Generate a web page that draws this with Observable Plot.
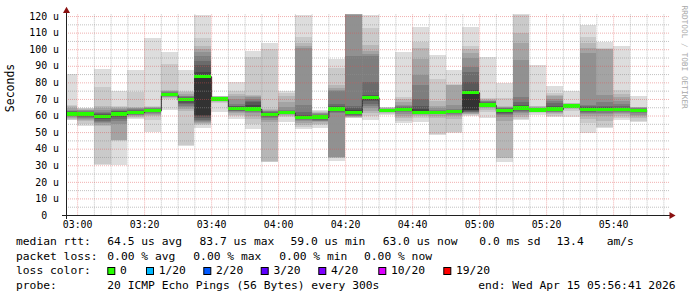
<!DOCTYPE html>
<html><head><meta charset="utf-8">
<script src="https://cdn.jsdelivr.net/npm/d3@7"></script>
<script src="https://cdn.jsdelivr.net/npm/@observablehq/plot@0.6"></script>
<style>
body{margin:0;background:#fff;}
#wrap{position:relative;width:697px;height:297px;overflow:hidden;background:#fff;}
#wrap svg{position:absolute;left:0;}
</style></head><body><div id="wrap"></div>
<script>
// ---- time frame (UTC used as wall clock) ----
const startTime = Date.UTC(2026, 3, 15, 2, 56, 41);
const endTime   = Date.UTC(2026, 3, 15, 5, 56, 41);
const firstBar  = Date.UTC(2026, 3, 15, 2, 55, 0);
const stepSec   = 300;

// ---- median rtt per 5-min step (µs) ----
const medians = [61, 61, 59.3, 61, 62, 63, 72.5, 69.5, 83.7, 70,
  64.4, 64, 60.7, 61.8, 59.0, 59.2, 64, 62, 71, 63.1,
  63.8, 62, 62, 62.3, 74, 66.4, 62.9, 64.6, 63.4, 63.9,
  65.8, 63.7, 63.8, 63.6, 63.0];

// ---- packet loss per step (pings lost of 20) ----
const lossCount = [0,0,0,0,0,0,0,0,0,0,0,0,0,0,0,0,0,0,0,0,0,0,0,0,0,0,0,0,0,0,0,0,0,0,0];

// ---- 20 sorted ping rtts per step (µs) ----
const sortedPings = [
  [57.2,57.6,58,58.5,59,59.5,60,60.3,60.6,60.9,61.2,61.5,62,62.5,63,63.6,64.5,66,66.6,85],
  [53.6,55,56.5,57.5,58.2,58.8,59.4,60,60.5,60.8,61.2,61.5,62,62.4,62.8,63.2,63.6,64,64.3,64.6],
  [30.2,30.5,53.5,54.5,55.5,56.3,57,57.8,58.3,58.8,59.8,60.3,60.8,61.5,62.3,63.3,64.5,66,77,88],
  [30.3,44.9,45,45.2,55,56.5,58,59,60,60.6,61.4,62,62.5,63,63.5,64,64.5,65,65.6,75],
  [58,58.6,59.2,59.7,60.2,60.6,61,61.3,61.6,61.8,62.2,62.5,62.9,63.3,63.8,64.3,64.8,65.3,74,87.5],
  [50.3,57.3,59.5,60.3,61,61.5,61.9,62.2,62.5,62.7,63.2,63.4,63.7,64,64.3,64.6,65,65.3,65.6,107],
  [63.4,70.2,70.6,71,71.3,71.6,71.9,72.1,72.2,72.3,72.7,73,73.3,73.7,74.1,74.5,75,75.5,90.8,98.5],
  [41.8,42,63,64,65,66,67,67.8,68.5,69,70,70.4,70.8,71.2,71.6,72,73,74,75,87.5],
  [52.5,54.5,55,55.5,56.3,57,57.6,58.5,59.5,60.6,84.5,86,90.6,93,96,98.6,100,102,106.6,120.6],
  [62.3,67.5,68.3,68.8,69.2,69.5,69.7,69.8,69.9,70,70.1,70.3,70.5,70.7,70.9,71.1,71.3,71.5,71.7,72],
  [58,59.5,60.5,61.3,62,62.5,63,63.4,63.8,64.1,64.7,65,65.5,66,67,70,72,73,74.5,80.5],
  [52,55,58,60,61.5,62.3,62.8,63.2,63.5,63.8,65,66.5,68,69,70,71,72,72.4,95.5,99],
  [31.8,32.2,32.6,56,57.5,58.5,59.2,59.8,60.2,60.5,61,61.4,61.8,62.2,62.6,63,63.5,64,100,104],
  [56,59,60,60.6,61,61.2,61.4,61.5,61.6,61.7,61.9,62.1,62.4,62.8,63.5,65,68,72,73.5,75],
  [52,53.3,54.5,55.5,56.5,57.3,57.8,58.2,58.5,58.7,59.2,59.7,60.5,62,66.6,100.5,102,104,107.5,120.6],
  [52.4,54,55,55.8,56.4,57,57.5,58,58.4,58.7,59.5,59.8,60.1,60.4,60.8,61.3,61.8,62.4,62.9,63.4],
  [32.3,34.2,34.5,34.8,35,61.5,62,62.5,63,63.5,64.5,65,66,67,74.5,75.5,76.5,78.5,88.5,94],
  [58.6,58.8,59,59.3,59.6,60,60.4,60.8,61.2,61.6,62.5,63.5,64.5,66,96,121,121,121,121,121],
  [57.6,60,61.6,63,64.5,65.6,67,68.5,69.5,70.2,71.5,72,72.6,80,96,97,99.2,102.6,112.6,120.6],
  [60.5,61.2,61.7,62,62.3,62.5,62.7,62.8,62.9,63,63.2,63.3,63.5,63.7,63.9,64.2,64.5,64.8,65,65.3],
  [55.3,56.5,58.5,60,61.2,62,62.6,63,63.3,63.6,64,64.3,64.7,65.2,65.8,66.5,68,70,71,98.5],
  [56,58.5,60,60.6,61,61.2,61.4,61.5,61.6,61.7,63,64,66,70,78.6,84.6,94,100.6,104.6,113.6],
  [48.5,49,58.5,60,60.8,61.2,61.5,61.7,61.8,61.9,62.1,62.3,62.6,63,63.6,64.5,66,68.6,82,96.6],
  [49.4,50,58,59.6,60.5,61,61.4,61.7,61.9,62.1,62.5,62.8,63.2,63.6,64,66.5,78.4,78.6,79,87.5],
  [60,60.4,60.8,61.2,61.6,62,62.4,62.8,63.2,63.6,75,75.6,80,86,89.5,94.5,98,100,102,113.6],
  [58.3,62,63.5,64.5,65,65.4,65.7,65.9,66.1,66.2,66.6,67,67.5,68,68.5,69,69.5,70,70.4,95.5],
  [32.2,34.2,34.5,57,59,60.2,61,61.6,62,62.4,63.3,63.6,64,64.3,64.6,65,65.3,65.6,70.5,79.5],
  [57.3,58,59,60.5,61.5,62.2,62.8,63.3,63.8,64.2,65,65.5,66.6,68,71.4,93.5,103.5,109.6,121,121],
  [60.5,61.5,62,62.4,62.7,62.9,63,63.1,63.2,63.3,63.5,63.7,63.9,64.1,64.3,64.6,65,65.5,66,90.5],
  [59,60,60.8,61.5,62,62.4,62.8,63.2,63.5,63.7,64.2,64.6,66,67.5,69,70,71.5,72.6,73.5,77.8],
  [59.3,63,64,64.6,65,65.2,65.4,65.5,65.6,65.7,65.9,66,66.2,66.4,66.6,66.8,67,67.3,67.6,75],
  [49.3,55.3,58,60,61,61.8,62.4,62.8,63.1,63.4,64,64.5,65,65.8,66.6,97.6,100.5,104,107.5,114.6],
  [52.4,53,57,59.5,61,61.8,62.5,63,63.3,63.5,64.1,64.5,65,66,68,72.4,100,100.3,100.5,104.5],
  [57.3,58.5,60,61,61.8,62.3,62.7,63,63.3,63.5,63.8,64.2,64.8,65.5,67,69,71,73,75.4,102],
  [56,57,58.5,59.5,60.5,61.3,61.9,62.3,62.6,62.8,63.3,63.6,63.9,64.2,64.5,64.8,65,65.2,65.4,71.8]
];

// ---- axis ticks ----
const yTicks = [0, 10, 20, 30, 40, 50, 60, 70, 80, 90, 100, 110, 120];
const yMinorTicks = [5, 15, 25, 35, 45, 55, 65, 75, 85, 95, 105, 115];
const yMax = 121;

// ---- legend texts ----
const rttLabel = "median rtt:";
const rttItems = ["64.5 us avg", "83.7 us max", "59.0 us min", "63.0 us now", "0.0 ms sd", "13.4", "am/s"];
const lossLabel = "packet loss:";
const lossItems = ["0.00 % avg", "0.00 % max", "0.00 % min", "0.00 % now"];
const lossColorLabel = "loss color:";
const lossLevels = [0, 1, 2, 3, 4, 10, 19];
const lossLevelLabels = ["0", "1/20", "2/20", "3/20", "4/20", "10/20", "19/20"];
const lossColors = ["#26ff00", "#00b8ff", "#0059ff", "#5e00ff", "#7e00ff", "#dd00ff", "#ff0000"];
const probeLabel = "probe:";
const probeText = "20 ICMP Echo Pings (56 Bytes) every 300s";
const endText = "end: Wed Apr 15 05:56:41 2026";
const watermark = "RRDTOOL / TOBI OETIKER";
const yLabel = "Seconds";

// ---- build tables ----
const N = medians.length;
const bars = medians.map((m, i) => ({
  t0: new Date(firstBar + i * stepSec * 1000),
  t1: new Date(firstBar + (i + 1) * stepSec * 1000),
  med: m, pings: sortedPings[i], loss: lossCount[i]
}));
const half = 10;
const shade = k => { const c = Math.floor(190 / half * (half - k)) + 50; return d3.rgb(c, c, c).formatHex(); };
const smoke = [];
for (let k = 1; k <= half; k++) for (const b of bars)
  smoke.push({t0: b.t0, t1: b.t1, lo: b.pings[k - 1], hi: b.pings[20 - k], fill: shade(k)});
const lossColorOf = l => { let c = lossColors[0]; lossLevels.forEach((v, j) => { if (l >= v) c = lossColors[j]; }); return c; };
const medLine = bars.map(b => ({t: b.t0, med: b.med})).concat([{t: bars[N - 1].t1, med: bars[N - 1].med}]);

const five = d3.utcMinute.every(5).range(new Date(startTime), new Date(endTime));
const xMajor = five.filter(d => d.getUTCMinutes() % 20 === 0);
const xMinor = five.filter(d => d.getUTCMinutes() % 20 !== 0);

const gridStyle = {stroke: "rgb(143,143,143)", strokeOpacity: 0.55, strokeDasharray: "1,1"};
const mgridStyle = {stroke: "rgb(222,79,79)", strokeOpacity: 0.45, strokeDasharray: "1,1"};
const mono = "DejaVu Sans Mono";

const chart = Plot.plot({
  width: 697, height: 232,
  marginLeft: 66, marginRight: 28, marginTop: 14.4, marginBottom: 17,
  x: {type: "utc", domain: [new Date(startTime), new Date(endTime)]},
  y: {domain: [0, yMax]},
  color: {type: "identity"},
  style: {background: "white", fontFamily: mono, fontSize: "9.9px", color: "#000"},
  marks: [
    Plot.rect(smoke, {x1: "t0", x2: "t1", y1: "lo", y2: "hi", fill: "fill", clip: true, shapeRendering: "crispEdges"}),
    Plot.line(medLine, {x: "t", y: "med", curve: "step-after", stroke: "#202020", strokeWidth: 1, clip: true}),
    Plot.rect(bars, {x1: "t0", x2: "t1", y1: d => d.med - 1, y2: d => d.med + 1, fill: d => lossColorOf(d.loss), clip: true, shapeRendering: "crispEdges"}),
    Plot.ruleY(yMinorTicks, gridStyle),
    Plot.ruleX(xMinor, gridStyle),
    Plot.ruleY(yTicks.filter(v => v > 0), mgridStyle),
    Plot.ruleX(xMajor, mgridStyle),
    Plot.ruleY([0], {stroke: "#202020", insetLeft: -4, insetRight: -2, shapeRendering: "crispEdges"}),
    Plot.ruleX([new Date(startTime)], {stroke: "#202020", insetTop: -2, insetBottom: -4, shapeRendering: "crispEdges"}),
    Plot.dot([{t: new Date(endTime), v: 0}], {x: "t", y: "v", symbol: "triangle", rotate: 90, r: 2.6, dx: 2, fill: "#8a1010", stroke: null}),
    Plot.dot([{t: new Date(startTime), v: yMax}], {x: "t", y: "v", symbol: "triangle", r: 2.6, dy: -4, fill: "#8a1010", stroke: null}),
    Plot.axisY({ticks: yTicks, tickSize: 0, tickPadding: 7.5, label: null,
      tickFormat: d => d === 0 ? "0\u00a0\u00a0" : d + " u", fontFamily: mono, fontSize: 9.9, fill: "#000"}),
    Plot.axisX({ticks: xMajor, tickSize: 0, tickPadding: 5.5, label: null,
      tickFormat: d3.utcFormat("%H:%M"), fontFamily: mono, fontSize: 9.9, fill: "#000"}),
    Plot.text([yLabel], {frameAnchor: "left", dx: -56, dy: -3, rotate: -90, fontFamily: mono, fontSize: 11.5, fill: "#000"}),
    Plot.text([watermark], {frameAnchor: "top-right", dx: 18, dy: -9.4, rotate: 90, textAnchor: "start", fontFamily: mono, fontSize: 7.8, fill: "#a8a8a8"})
  ]
});
chart.style.top = "0px";
document.getElementById("wrap").appendChild(chart);

// ---- legend below the chart ----
const rttX = [107.3, 199.5, 290.5, 382.7, 479.3, 556.5, 606.7];
const lossX = [107.3, 193.3, 279.3, 364];
const swatchX = [107.3, 146, 203.3, 260.7, 318.3, 378.3, 443.3];
const baselines = [13, 27.5, 42, 56.5];
const leg = d3.create("svg").attr("width", 697).attr("height", 65)
  .style("top", "232px").attr("font-family", mono).attr("font-size", 11.3).attr("fill", "#000");
const t = (x, y, s) => leg.append("text").attr("x", x).attr("y", y).text(s);
t(16, baselines[0], rttLabel);
rttItems.forEach((s, i) => t(rttX[i], baselines[0], s));
t(16, baselines[1], lossLabel);
lossItems.forEach((s, i) => t(lossX[i], baselines[1], s));
t(16, baselines[2], lossColorLabel);
lossLevelLabels.forEach((s, i) => {
  leg.append("rect").attr("x", swatchX[i] + 0.5).attr("y", 35.5).attr("width", 7).attr("height", 7)
    .attr("fill", lossColors[i]).attr("stroke", "#000").attr("stroke-width", 1);
  t(swatchX[i] + 12.7, baselines[2], s);
});
t(16, baselines[3], probeLabel);
t(107.3, baselines[3], probeText);
t(478.3, baselines[3], endText);
document.getElementById("wrap").appendChild(leg.node());
</script></body></html>
